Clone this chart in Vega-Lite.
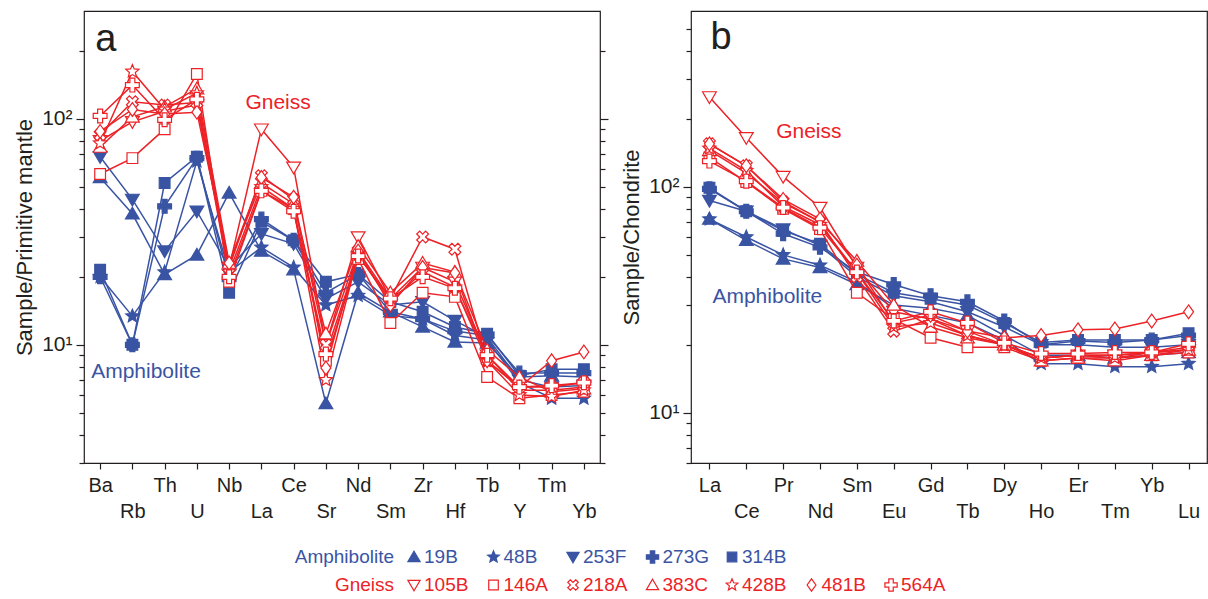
{
"$schema":"https://vega.github.io/schema/vega-lite/v6.json",
"padding":{"left":13,"top":10,"right":0,"bottom":0},
"config":{"font":"Liberation Sans","view":{"stroke":"#231f20","strokeWidth":1.2},"axis":{"domain":false,"grid":false,"tickColor":"#231f20","tickWidth":1.2,"labelColor":"#231f20","labelFont":"Liberation Sans","titleFont":"Liberation Sans","titleColor":"#231f20"},"text":{"font":"Liberation Sans"}},
"datasets":{
"pm":[
{"s":"19B","e":"Ba","v":55},{"s":"19B","e":"Rb","v":38},{"s":"19B","e":"Th","v":20.5},{"s":"19B","e":"U","v":25},{"s":"19B","e":"Nb","v":47},{"s":"19B","e":"La","v":26},{"s":"19B","e":"Ce","v":21.5},{"s":"19B","e":"Sr","v":5.5},{"s":"19B","e":"Nd","v":17},{"s":"19B","e":"Sm","v":14},{"s":"19B","e":"Zr","v":12},{"s":"19B","e":"Hf","v":10.3},{"s":"19B","e":"Tb","v":10.2},{"s":"19B","e":"Y","v":7.2},{"s":"19B","e":"Tm","v":7.3},{"s":"19B","e":"Yb","v":7.2},
{"s":"48B","e":"Ba","v":20},{"s":"48B","e":"Rb","v":13.4},{"s":"48B","e":"Th","v":21},{"s":"48B","e":"U","v":65},{"s":"48B","e":"Nb","v":21},{"s":"48B","e":"La","v":27},{"s":"48B","e":"Ce","v":22},{"s":"48B","e":"Sr","v":15},{"s":"48B","e":"Nd","v":16.5},{"s":"48B","e":"Sm","v":13.5},{"s":"48B","e":"Zr","v":13},{"s":"48B","e":"Hf","v":11},{"s":"48B","e":"Tb","v":10.5},{"s":"48B","e":"Y","v":6.8},{"s":"48B","e":"Tm","v":5.8},{"s":"48B","e":"Yb","v":5.8},
{"s":"253F","e":"Ba","v":68},{"s":"253F","e":"Rb","v":44},{"s":"253F","e":"Th","v":26},{"s":"253F","e":"U","v":39},{"s":"253F","e":"Nb","v":22},{"s":"253F","e":"La","v":31},{"s":"253F","e":"Ce","v":28},{"s":"253F","e":"Sr","v":16},{"s":"253F","e":"Nd","v":19},{"s":"253F","e":"Sm","v":15},{"s":"253F","e":"Zr","v":15.5},{"s":"253F","e":"Hf","v":12.8},{"s":"253F","e":"Tb","v":10.8},{"s":"253F","e":"Y","v":7},{"s":"253F","e":"Tm","v":6.5},{"s":"253F","e":"Yb","v":6.6},
{"s":"273G","e":"Ba","v":20},{"s":"273G","e":"Rb","v":10},{"s":"273G","e":"Th","v":41},{"s":"273G","e":"U","v":67},{"s":"273G","e":"Nb","v":19.5},{"s":"273G","e":"La","v":36},{"s":"273G","e":"Ce","v":29},{"s":"273G","e":"Sr","v":17},{"s":"273G","e":"Nd","v":20.5},{"s":"273G","e":"Sm","v":14},{"s":"273G","e":"Zr","v":13},{"s":"273G","e":"Hf","v":11.5},{"s":"273G","e":"Tb","v":11},{"s":"273G","e":"Y","v":7.5},{"s":"273G","e":"Tm","v":7.5},{"s":"273G","e":"Yb","v":7.5},
{"s":"314B","e":"Ba","v":21.5},{"s":"314B","e":"Rb","v":10},{"s":"314B","e":"Th","v":52},{"s":"314B","e":"U","v":68},{"s":"314B","e":"Nb","v":17},{"s":"314B","e":"La","v":35},{"s":"314B","e":"Ce","v":29},{"s":"314B","e":"Sr","v":19},{"s":"314B","e":"Nd","v":20.5},{"s":"314B","e":"Sm","v":15.5},{"s":"314B","e":"Zr","v":14},{"s":"314B","e":"Hf","v":12},{"s":"314B","e":"Tb","v":11.2},{"s":"314B","e":"Y","v":7.3},{"s":"314B","e":"Tm","v":7.8},{"s":"314B","e":"Yb","v":7.8},
{"s":"105B","e":"Ba","v":80},{"s":"105B","e":"Rb","v":97},{"s":"105B","e":"Th","v":108},{"s":"105B","e":"U","v":115},{"s":"105B","e":"Nb","v":22},{"s":"105B","e":"La","v":90},{"s":"105B","e":"Ce","v":61},{"s":"105B","e":"Sr","v":10},{"s":"105B","e":"Nd","v":30},{"s":"105B","e":"Sm","v":16},{"s":"105B","e":"Zr","v":22},{"s":"105B","e":"Hf","v":19},{"s":"105B","e":"Tb","v":9},{"s":"105B","e":"Y","v":6.3},{"s":"105B","e":"Tm","v":6.3},{"s":"105B","e":"Yb","v":6.5},
{"s":"146A","e":"Ba","v":57},{"s":"146A","e":"Rb","v":67},{"s":"146A","e":"Th","v":90},{"s":"146A","e":"U","v":158},{"s":"146A","e":"Nb","v":19},{"s":"146A","e":"La","v":48},{"s":"146A","e":"Ce","v":40},{"s":"146A","e":"Sr","v":8.5},{"s":"146A","e":"Nd","v":24},{"s":"146A","e":"Sm","v":12.5},{"s":"146A","e":"Zr","v":17},{"s":"146A","e":"Hf","v":16.3},{"s":"146A","e":"Tb","v":7.2},{"s":"146A","e":"Y","v":5.8},{"s":"146A","e":"Tm","v":6},{"s":"146A","e":"Yb","v":6.2},
{"s":"218A","e":"Ba","v":85},{"s":"218A","e":"Rb","v":119},{"s":"218A","e":"Th","v":115},{"s":"218A","e":"U","v":118},{"s":"218A","e":"Nb","v":22},{"s":"218A","e":"La","v":56},{"s":"218A","e":"Ce","v":44},{"s":"218A","e":"Sr","v":10},{"s":"218A","e":"Nd","v":26},{"s":"218A","e":"Sm","v":16},{"s":"218A","e":"Zr","v":30},{"s":"218A","e":"Hf","v":26.5},{"s":"218A","e":"Tb","v":8.5},{"s":"218A","e":"Y","v":6.5},{"s":"218A","e":"Tm","v":6.5},{"s":"218A","e":"Yb","v":6.8},
{"s":"383C","e":"Ba","v":75},{"s":"383C","e":"Rb","v":102},{"s":"383C","e":"Th","v":113},{"s":"383C","e":"U","v":136},{"s":"383C","e":"Nb","v":23},{"s":"383C","e":"La","v":52},{"s":"383C","e":"Ce","v":42},{"s":"383C","e":"Sr","v":11.2},{"s":"383C","e":"Nd","v":27.3},{"s":"383C","e":"Sm","v":17},{"s":"383C","e":"Zr","v":23},{"s":"383C","e":"Hf","v":21},{"s":"383C","e":"Tb","v":9.5},{"s":"383C","e":"Y","v":7.2},{"s":"383C","e":"Tm","v":6.2},{"s":"383C","e":"Yb","v":6.4},
{"s":"428B","e":"Ba","v":78},{"s":"428B","e":"Rb","v":162},{"s":"428B","e":"Th","v":110},{"s":"428B","e":"U","v":130},{"s":"428B","e":"Nb","v":21},{"s":"428B","e":"La","v":50},{"s":"428B","e":"Ce","v":40},{"s":"428B","e":"Sr","v":7},{"s":"428B","e":"Nd","v":25},{"s":"428B","e":"Sm","v":15.5},{"s":"428B","e":"Zr","v":21},{"s":"428B","e":"Hf","v":18},{"s":"428B","e":"Tb","v":8.5},{"s":"428B","e":"Y","v":6},{"s":"428B","e":"Tm","v":5.9},{"s":"428B","e":"Yb","v":6.3},
{"s":"481B","e":"Ba","v":88},{"s":"481B","e":"Rb","v":110},{"s":"481B","e":"Th","v":105},{"s":"481B","e":"U","v":107},{"s":"481B","e":"Nb","v":23},{"s":"481B","e":"La","v":55},{"s":"481B","e":"Ce","v":45},{"s":"481B","e":"Sr","v":7.9},{"s":"481B","e":"Nd","v":26},{"s":"481B","e":"Sm","v":15},{"s":"481B","e":"Zr","v":22},{"s":"481B","e":"Hf","v":20.8},{"s":"481B","e":"Tb","v":8.5},{"s":"481B","e":"Y","v":6.5},{"s":"481B","e":"Tm","v":8.5},{"s":"481B","e":"Yb","v":9.3},
{"s":"564A","e":"Ba","v":103},{"s":"564A","e":"Rb","v":141},{"s":"564A","e":"Th","v":99},{"s":"564A","e":"U","v":122},{"s":"564A","e":"Nb","v":20},{"s":"564A","e":"La","v":48},{"s":"564A","e":"Ce","v":39},{"s":"564A","e":"Sr","v":9.1},{"s":"564A","e":"Nd","v":24.7},{"s":"564A","e":"Sm","v":16},{"s":"564A","e":"Zr","v":20},{"s":"564A","e":"Hf","v":17.8},{"s":"564A","e":"Tb","v":9},{"s":"564A","e":"Y","v":6.5},{"s":"564A","e":"Tm","v":6.6},{"s":"564A","e":"Yb","v":6.8}
],
"ch":[
{"s":"19B","e":"La","v":72},{"s":"19B","e":"Ce","v":58},{"s":"19B","e":"Pr","v":48},{"s":"19B","e":"Nd","v":44},{"s":"19B","e":"Sm","v":37},{"s":"19B","e":"Eu","v":30},{"s":"19B","e":"Gd","v":29},{"s":"19B","e":"Tb","v":27},{"s":"19B","e":"Dy","v":22},{"s":"19B","e":"Ho","v":18},{"s":"19B","e":"Er","v":18},{"s":"19B","e":"Tm","v":17.5},{"s":"19B","e":"Yb","v":18},{"s":"19B","e":"Lu","v":18.5},
{"s":"48B","e":"La","v":72},{"s":"48B","e":"Ce","v":60},{"s":"48B","e":"Pr","v":50},{"s":"48B","e":"Nd","v":45},{"s":"48B","e":"Sm","v":38},{"s":"48B","e":"Eu","v":29},{"s":"48B","e":"Gd","v":27},{"s":"48B","e":"Tb","v":25},{"s":"48B","e":"Dy","v":21},{"s":"48B","e":"Ho","v":16.5},{"s":"48B","e":"Er","v":16.5},{"s":"48B","e":"Tm","v":16},{"s":"48B","e":"Yb","v":16},{"s":"48B","e":"Lu","v":16.5},
{"s":"253F","e":"La","v":87},{"s":"253F","e":"Ce","v":78},{"s":"253F","e":"Pr","v":65},{"s":"253F","e":"Nd","v":55},{"s":"253F","e":"Sm","v":40},{"s":"253F","e":"Eu","v":33},{"s":"253F","e":"Gd","v":31},{"s":"253F","e":"Tb","v":28},{"s":"253F","e":"Dy","v":24},{"s":"253F","e":"Ho","v":20},{"s":"253F","e":"Er","v":20},{"s":"253F","e":"Tm","v":19.5},{"s":"253F","e":"Yb","v":19.5},{"s":"253F","e":"Lu","v":20},
{"s":"273G","e":"La","v":98},{"s":"273G","e":"Ce","v":78},{"s":"273G","e":"Pr","v":62},{"s":"273G","e":"Nd","v":54},{"s":"273G","e":"Sm","v":42},{"s":"273G","e":"Eu","v":37},{"s":"273G","e":"Gd","v":33},{"s":"273G","e":"Tb","v":31},{"s":"273G","e":"Dy","v":25.5},{"s":"273G","e":"Ho","v":20},{"s":"273G","e":"Er","v":20.8},{"s":"273G","e":"Tm","v":20.5},{"s":"273G","e":"Yb","v":21},{"s":"273G","e":"Lu","v":22},
{"s":"314B","e":"La","v":99},{"s":"314B","e":"Ce","v":78},{"s":"314B","e":"Pr","v":64},{"s":"314B","e":"Nd","v":56},{"s":"314B","e":"Sm","v":41},{"s":"314B","e":"Eu","v":34},{"s":"314B","e":"Gd","v":32},{"s":"314B","e":"Tb","v":30},{"s":"314B","e":"Dy","v":25},{"s":"314B","e":"Ho","v":20.5},{"s":"314B","e":"Er","v":21},{"s":"314B","e":"Tm","v":21},{"s":"314B","e":"Yb","v":21},{"s":"314B","e":"Lu","v":22.5},
{"s":"105B","e":"La","v":250},{"s":"105B","e":"Ce","v":165},{"s":"105B","e":"Pr","v":111},{"s":"105B","e":"Nd","v":81},{"s":"105B","e":"Sm","v":44},{"s":"105B","e":"Eu","v":28},{"s":"105B","e":"Gd","v":26},{"s":"105B","e":"Tb","v":23},{"s":"105B","e":"Dy","v":20},{"s":"105B","e":"Ho","v":17.5},{"s":"105B","e":"Er","v":18},{"s":"105B","e":"Tm","v":18},{"s":"105B","e":"Yb","v":18.5},{"s":"105B","e":"Lu","v":19},
{"s":"146A","e":"La","v":135},{"s":"146A","e":"Ce","v":105},{"s":"146A","e":"Pr","v":80},{"s":"146A","e":"Nd","v":65},{"s":"146A","e":"Sm","v":34},{"s":"146A","e":"Eu","v":26},{"s":"146A","e":"Gd","v":21.5},{"s":"146A","e":"Tb","v":19.5},{"s":"146A","e":"Dy","v":19.5},{"s":"146A","e":"Ho","v":17},{"s":"146A","e":"Er","v":17.5},{"s":"146A","e":"Tm","v":17.5},{"s":"146A","e":"Yb","v":18},{"s":"146A","e":"Lu","v":18.5},
{"s":"218A","e":"La","v":155},{"s":"218A","e":"Ce","v":124},{"s":"218A","e":"Pr","v":86},{"s":"218A","e":"Nd","v":70},{"s":"218A","e":"Sm","v":40},{"s":"218A","e":"Eu","v":23},{"s":"218A","e":"Gd","v":26},{"s":"218A","e":"Tb","v":22},{"s":"218A","e":"Dy","v":20},{"s":"218A","e":"Ho","v":17.5},{"s":"218A","e":"Er","v":18},{"s":"218A","e":"Tm","v":18},{"s":"218A","e":"Yb","v":18.5},{"s":"218A","e":"Lu","v":19.5},
{"s":"383C","e":"La","v":145},{"s":"383C","e":"Ce","v":115},{"s":"383C","e":"Pr","v":85},{"s":"383C","e":"Nd","v":70},{"s":"383C","e":"Sm","v":47},{"s":"383C","e":"Eu","v":30},{"s":"383C","e":"Gd","v":24},{"s":"383C","e":"Tb","v":21.5},{"s":"383C","e":"Dy","v":20},{"s":"383C","e":"Ho","v":17},{"s":"383C","e":"Er","v":17.5},{"s":"383C","e":"Tm","v":17},{"s":"383C","e":"Yb","v":18},{"s":"383C","e":"Lu","v":19},
{"s":"428B","e":"La","v":148},{"s":"428B","e":"Ce","v":118},{"s":"428B","e":"Pr","v":82},{"s":"428B","e":"Nd","v":68},{"s":"428B","e":"Sm","v":42},{"s":"428B","e":"Eu","v":24},{"s":"428B","e":"Gd","v":25},{"s":"428B","e":"Tb","v":22},{"s":"428B","e":"Dy","v":20},{"s":"428B","e":"Ho","v":17.5},{"s":"428B","e":"Er","v":18},{"s":"428B","e":"Tm","v":17.5},{"s":"428B","e":"Yb","v":18.5},{"s":"428B","e":"Lu","v":19},
{"s":"481B","e":"La","v":155},{"s":"481B","e":"Ce","v":124},{"s":"481B","e":"Pr","v":88},{"s":"481B","e":"Nd","v":72},{"s":"481B","e":"Sm","v":45},{"s":"481B","e":"Eu","v":25},{"s":"481B","e":"Gd","v":27},{"s":"481B","e":"Tb","v":23},{"s":"481B","e":"Dy","v":21.5},{"s":"481B","e":"Ho","v":22},{"s":"481B","e":"Er","v":23.3},{"s":"481B","e":"Tm","v":23.5},{"s":"481B","e":"Yb","v":25.5},{"s":"481B","e":"Lu","v":28},
{"s":"564A","e":"La","v":130},{"s":"564A","e":"Ce","v":106},{"s":"564A","e":"Pr","v":81},{"s":"564A","e":"Nd","v":66},{"s":"564A","e":"Sm","v":42},{"s":"564A","e":"Eu","v":25.5},{"s":"564A","e":"Gd","v":28},{"s":"564A","e":"Tb","v":25},{"s":"564A","e":"Dy","v":20.4},{"s":"564A","e":"Ho","v":18.3},{"s":"564A","e":"Er","v":18.3},{"s":"564A","e":"Tm","v":18.5},{"s":"564A","e":"Yb","v":18.5},{"s":"564A","e":"Lu","v":20.2}
],
"leg":[
{"s":"19B","g":"Amphibolite"},{"s":"48B","g":"Amphibolite"},{"s":"253F","g":"Amphibolite"},{"s":"273G","g":"Amphibolite"},{"s":"314B","g":"Amphibolite"},
{"s":"105B","g":"Gneiss"},{"s":"146A","g":"Gneiss"},{"s":"218A","g":"Gneiss"},{"s":"383C","g":"Gneiss"},{"s":"428B","g":"Gneiss"},{"s":"481B","g":"Gneiss"},{"s":"564A","g":"Gneiss"}
]
},
"spacing":21,
"vconcat":[
{"hconcat":[
{"width":516,"height":452,"data":{"name":"pm"},
"resolve":{"axis":{"x":"independent","y":"independent"}},
"layer":[
{"transform":[{"filter":"indexof(['19B','48B','253F','273G','314B'], datum.s) >= 0"}],
"mark":{"type":"line","strokeWidth":1.5},
"encoding":{
"x":{"field":"e","type":"nominal","scale":{"type":"point","domain":["Ba","Rb","Th","U","Nb","La","Ce","Sr","Nd","Sm","Zr","Hf","Tb","Y","Tm","Yb"],"padding":0.5},"axis":{"orient":"bottom","title":null,"labelAngle":0,"ticks":true,"tickSize":6,"labelPadding":6,"labelFontSize":20,"labelExpr":"indexof(['Ba','Th','Nb','Ce','Nd','Zr','Tb','Tm'], datum.value) >= 0 ? datum.value : ''"}},
"y":{"field":"v","type":"quantitative","scale":{"type":"log","domain":[3,300],"nice":false},"axis":{"orient":"left","values":[10,100],"labelExpr":"datum.value == 100 ? '10²' : '10¹'","tickSize":8,"labelPadding":4,"labelFontSize":21,"title":"Sample/Primitive mantle","titleFontSize":22,"titleFontWeight":"normal","titlePadding":5}},
"stroke":{"field":"s","type":"nominal","scale":{"domain":["19B","48B","253F","273G","314B","105B","146A","218A","383C","428B","481B","564A"],"range":["#3A54A4","#3A54A4","#3A54A4","#3A54A4","#3A54A4","#EC2227","#EC2227","#EC2227","#EC2227","#EC2227","#EC2227","#EC2227"]},"legend":null},
"order":{"value":null}}},
{"transform":[{"filter":"indexof(['19B','48B','253F','273G','314B'], datum.s) >= 0"}],
"mark":{"type":"point","size":190,"opacity":1,"strokeWidth":1.2},
"encoding":{
"x":{"field":"e","type":"nominal","axis":{"orient":"bottom","title":null,"labelAngle":0,"ticks":false,"labelPadding":38,"labelFontSize":20,"labelExpr":"indexof(['Rb','U','La','Sr','Sm','Hf','Y','Yb'], datum.value) >= 0 ? datum.value : ''"}},
"y":{"field":"v","type":"quantitative","axis":{"orient":"right","values":[3,4,5,6,7,8,9,20,30,40,50,60,70,80,90,200],"labels":false,"tickSize":5,"title":null}},
"stroke":{"field":"s","type":"nominal","legend":null},
"fill":{"field":"s","type":"nominal","scale":{"domain":["19B","48B","253F","273G","314B","105B","146A","218A","383C","428B","481B","564A"],"range":["#3A54A4","#3A54A4","#3A54A4","#3A54A4","#3A54A4","#ffffff","#ffffff","#ffffff","#ffffff","#ffffff","#ffffff","#ffffff"]},"legend":null},
"shape":{"field":"s","type":"nominal","scale":{"domain":["19B","48B","253F","273G","314B","105B","146A","218A","383C","428B","481B","564A"],"range":["M0,-0.95L1,0.75L-1,0.75Z","M0,-1L0.2645,-0.364L0.951,-0.309L0.428,0.139L0.588,0.809L0,0.45L-0.588,0.809L-0.428,0.139L-0.951,-0.309L-0.2645,-0.364Z","M0,0.95L1,-0.75L-1,-0.75Z","M-0.36,-1L0.36,-1L0.36,-0.36L1,-0.36L1,0.36L0.36,0.36L0.36,1L-0.36,1L-0.36,0.36L-1,0.36L-1,-0.36L-0.36,-0.36Z","M-0.78,-0.78L0.78,-0.78L0.78,0.78L-0.78,0.78Z","M0,0.95L1,-0.75L-1,-0.75Z","M-0.78,-0.78L0.78,-0.78L0.78,0.78L-0.78,0.78Z","M0.43,-0.86L0.86,-0.43L0.42,0L0.86,0.43L0.43,0.86L0,0.42L-0.43,0.86L-0.86,0.43L-0.42,0L-0.86,-0.43L-0.43,-0.86L0,-0.42Z","M0,-0.95L1,0.75L-1,0.75Z","M0,-1L0.2645,-0.364L0.951,-0.309L0.428,0.139L0.588,0.809L0,0.45L-0.588,0.809L-0.428,0.139L-0.951,-0.309L-0.2645,-0.364Z","M0,-1L0.72,0L0,1L-0.72,0Z","M-0.36,-1L0.36,-1L0.36,-0.36L1,-0.36L1,0.36L0.36,0.36L0.36,1L-0.36,1L-0.36,0.36L-1,0.36L-1,-0.36L-0.36,-0.36Z"]},"legend":null}}},
{"transform":[{"filter":"indexof(['19B','48B','253F','273G','314B'], datum.s) < 0"}],
"mark":{"type":"line","strokeWidth":1.5},
"encoding":{
"x":{"field":"e","type":"nominal","axis":null},
"y":{"field":"v","type":"quantitative","axis":{"orient":"left","values":[3,4,5,6,7,8,9,20,30,40,50,60,70,80,90,200],"labels":false,"tickSize":5,"title":null}},
"stroke":{"field":"s","type":"nominal","legend":null},
"order":{"value":null}}},
{"transform":[{"filter":"indexof(['19B','48B','253F','273G','314B'], datum.s) < 0"}],
"mark":{"type":"point","size":190,"opacity":1,"strokeWidth":1.2},
"encoding":{
"x":{"field":"e","type":"nominal","axis":null},
"y":{"field":"v","type":"quantitative","axis":{"orient":"right","values":[10,100],"labels":false,"tickSize":8,"title":null}},
"stroke":{"field":"s","type":"nominal","legend":null},
"fill":{"field":"s","type":"nominal","legend":null},
"shape":{"field":"s","type":"nominal","legend":null}}},
{"data":{"values":[{}]},"mark":{"type":"text","text":"a","fontSize":38,"align":"left","baseline":"alphabetic","dx":-5,"color":"#231f20"},
"encoding":{"x":{"datum":"Ba","type":"nominal","axis":null},"y":{"datum":200,"type":"quantitative","axis":null}}},
{"data":{"values":[{}]},"mark":{"type":"text","text":"Gneiss","fontSize":21,"align":"left","baseline":"alphabetic","dx":-16,"color":"#EC2227"},
"encoding":{"x":{"datum":"La","type":"nominal","axis":null},"y":{"datum":110,"type":"quantitative","axis":null}}},
{"data":{"values":[{}]},"mark":{"type":"text","text":"Amphibolite","fontSize":21,"align":"left","baseline":"alphabetic","dx":-9,"color":"#3A54A4"},
"encoding":{"x":{"datum":"Ba","type":"nominal","axis":null},"y":{"datum":7.1,"type":"quantitative","axis":null}}}
]},
{"width":516,"height":452,"data":{"name":"ch"},
"resolve":{"axis":{"x":"independent","y":"independent"}},
"layer":[
{"transform":[{"filter":"indexof(['19B','48B','253F','273G','314B'], datum.s) >= 0"}],
"mark":{"type":"line","strokeWidth":1.5},
"encoding":{
"x":{"field":"e","type":"nominal","scale":{"type":"point","domain":["La","Ce","Pr","Nd","Sm","Eu","Gd","Tb","Dy","Ho","Er","Tm","Yb","Lu"],"padding":0.5},"axis":{"orient":"bottom","title":null,"labelAngle":0,"ticks":true,"tickSize":6,"labelPadding":6,"labelFontSize":20,"labelExpr":"indexof(['La','Pr','Sm','Gd','Dy','Er','Yb'], datum.value) >= 0 ? datum.value : ''"}},
"y":{"field":"v","type":"quantitative","scale":{"type":"log","domain":[6,600],"nice":false},"axis":{"orient":"left","values":[10,100],"labelExpr":"datum.value == 100 ? '10²' : '10¹'","tickSize":8,"labelPadding":4,"labelFontSize":21,"title":"Sample/Chondrite","titleFontSize":22,"titleFontWeight":"normal","titlePadding":5}},
"stroke":{"field":"s","type":"nominal","legend":null},
"order":{"value":null}}},
{"transform":[{"filter":"indexof(['19B','48B','253F','273G','314B'], datum.s) >= 0"}],
"mark":{"type":"point","size":190,"opacity":1,"strokeWidth":1.2},
"encoding":{
"x":{"field":"e","type":"nominal","axis":{"orient":"bottom","title":null,"labelAngle":0,"ticks":false,"labelPadding":38,"labelFontSize":20,"labelExpr":"indexof(['Ce','Nd','Eu','Tb','Ho','Tm','Lu'], datum.value) >= 0 ? datum.value : ''"}},
"y":{"field":"v","type":"quantitative","axis":{"orient":"right","values":[6,7,8,9,20,30,40,50,60,70,80,90,200,300,400,500],"labels":false,"tickSize":2,"title":null}},
"stroke":{"field":"s","type":"nominal","legend":null},
"fill":{"field":"s","type":"nominal","legend":null},
"shape":{"field":"s","type":"nominal","legend":null}}},
{"transform":[{"filter":"indexof(['19B','48B','253F','273G','314B'], datum.s) < 0"}],
"mark":{"type":"line","strokeWidth":1.5},
"encoding":{
"x":{"field":"e","type":"nominal","axis":null},
"y":{"field":"v","type":"quantitative","axis":{"orient":"left","values":[6,7,8,9,20,30,40,50,60,70,80,90,200,300,400,500],"labels":false,"tickSize":5,"title":null}},
"stroke":{"field":"s","type":"nominal","legend":null},
"order":{"value":null}}},
{"transform":[{"filter":"indexof(['19B','48B','253F','273G','314B'], datum.s) < 0"}],
"mark":{"type":"point","size":190,"opacity":1,"strokeWidth":1.2},
"encoding":{
"x":{"field":"e","type":"nominal","axis":null},
"y":{"field":"v","type":"quantitative","axis":{"orient":"right","values":[10,100],"labels":false,"tickSize":2,"title":null}},
"stroke":{"field":"s","type":"nominal","legend":null},
"fill":{"field":"s","type":"nominal","legend":null},
"shape":{"field":"s","type":"nominal","legend":null}}},
{"data":{"values":[{}]},"mark":{"type":"text","text":"b","fontSize":38,"align":"left","baseline":"alphabetic","dx":1,"color":"#231f20"},
"encoding":{"x":{"datum":"La","type":"nominal","axis":null},"y":{"datum":408,"type":"quantitative","axis":null}}},
{"data":{"values":[{}]},"mark":{"type":"text","text":"Gneiss","fontSize":21,"align":"left","baseline":"alphabetic","dx":-7,"color":"#EC2227"},
"encoding":{"x":{"datum":"Pr","type":"nominal","axis":null},"y":{"datum":165,"type":"quantitative","axis":null}}},
{"data":{"values":[{}]},"mark":{"type":"text","text":"Amphibolite","fontSize":21,"align":"left","baseline":"alphabetic","dx":3,"color":"#3A54A4"},
"encoding":{"x":{"datum":"La","type":"nominal","axis":null},"y":{"datum":30.7,"type":"quantitative","axis":null}}}
]}
],"spacing":10},
{"width":1100,"height":56,"view":{"stroke":null},"data":{"name":"leg"},
"transform":[{"window":[{"op":"row_number","as":"k"}],"groupby":["g"]}],
"layer":[
{"mark":{"type":"point","size":150,"opacity":1,"strokeWidth":1.2},
"encoding":{
"x":{"field":"k","type":"quantitative","scale":{"domain":[-3.151,10.685],"nice":false,"zero":false},"axis":null},
"y":{"field":"g","type":"nominal","scale":{"type":"point","domain":["Amphibolite","Gneiss"],"padding":0.5},"axis":null},
"stroke":{"field":"s","type":"nominal","legend":null},
"fill":{"field":"s","type":"nominal","legend":null},
"shape":{"field":"s","type":"nominal","legend":null}}},
{"mark":{"type":"text","align":"left","baseline":"middle","dx":10,"fontSize":19},
"encoding":{
"x":{"field":"k","type":"quantitative"},
"y":{"field":"g","type":"nominal"},
"text":{"field":"s"},
"color":{"condition":{"test":"datum.g === 'Gneiss'","value":"#EC2227"},"value":"#3A54A4"}}},
{"transform":[{"filter":"datum.k == 1"}],
"mark":{"type":"text","align":"right","baseline":"middle","dx":-20,"fontSize":19},
"encoding":{
"x":{"field":"k","type":"quantitative"},
"y":{"field":"g","type":"nominal"},
"text":{"field":"g"},
"color":{"condition":{"test":"datum.g === 'Gneiss'","value":"#EC2227"},"value":"#3A54A4"}}}
]}
]
}
